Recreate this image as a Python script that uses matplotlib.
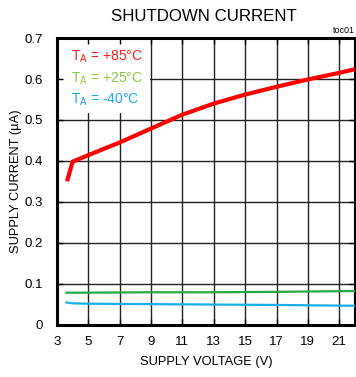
import matplotlib
matplotlib.use("Agg")
import matplotlib.pyplot as plt
from matplotlib.patches import Rectangle

plt.rcParams['font.family'] = ['Liberation Sans', 'DejaVu Sans']

# Data
v_red = [3.64, 4.0, 5, 7, 9, 11, 13, 15, 17, 19, 21, 22]
i_red = [0.350, 0.398, 0.414, 0.445, 0.479, 0.513, 0.540, 0.562, 0.581, 0.599, 0.615, 0.624]
v_green = [3.6, 5, 9, 13, 17, 22]
i_green = [0.078, 0.078, 0.079, 0.079, 0.080, 0.082]
v_blue = [3.6, 4, 5, 9, 13, 17, 22]
i_blue = [0.054, 0.052, 0.051, 0.050, 0.049, 0.048, 0.046]
xticks = [3, 5, 7, 9, 11, 13, 15, 17, 19, 21]
yticks = [0, 0.1, 0.2, 0.3, 0.4, 0.5, 0.6, 0.7]
ytick_labels = ["0", "0.1", "0.2", "0.3", "0.4", "0.5", "0.6", "0.7"]
legend_labels = [r"T$_\mathregular{A}$ = +85°C", r"T$_\mathregular{A}$ = +25°C", r"T$_\mathregular{A}$ = -40°C"]
legend_colors = ["#ff1a1a", "#8dc63f", "#1aa8e8"]

fig = plt.figure(figsize=(3.56, 3.77), dpi=100)
ax = fig.add_axes([0.160, 0.139, 0.837, 0.760])
ax.set_xlim(3, 22)
ax.set_ylim(0, 0.7)

for v in xticks[1:]:
    ax.axvline(v, color='#222222', lw=1.0, zorder=0.3)
for y in yticks[1:-1]:
    ax.axhline(y, color='#222222', lw=1.0, zorder=0.3)

ax.add_patch(Rectangle((3, 0.517), 5.93, 0.183, facecolor='white', edgecolor='none', zorder=0.6))

ax.plot(v_red, i_red, color='#ff0000', lw=3.0, zorder=3, solid_capstyle='butt', solid_joinstyle='round')
ax.plot(v_green, i_green, color='#22aa44', lw=1.6, zorder=3)
ax.plot(v_blue, i_blue, color='#19aee8', lw=1.6, zorder=3)

ax.set_xticks(xticks)
ax.set_yticks(yticks)
ax.set_yticklabels(ytick_labels)
ax.tick_params(direction='in', length=4, width=1, labelsize=9.5, top=True, right=True)
ax.tick_params(axis='x', pad=8)
ax.tick_params(axis='y', pad=10)
for s in ax.spines.values():
    s.set_linewidth(2.2)

lab_font = dict(family=['Liberation Sans Narrow', 'Liberation Sans', 'DejaVu Sans'], fontsize=9.3)
ax.set_xlabel("SUPPLY VOLTAGE (V)", labelpad=6, **lab_font)
ax.set_ylabel("SUPPLY CURRENT (µA)", labelpad=2, **lab_font)

fig.text(0.572, 0.957, "SHUTDOWN CURRENT", ha='center', va='center', fontsize=12.2)
fig.text(0.935, 0.919, "toc01", ha='left', va='center', fontsize=6.5)

ys = [0.850, 0.791, 0.735]
for lab, c, yy in zip(legend_labels, legend_colors, ys):
    fig.text(0.200, yy, lab, color=c, fontsize=10, ha='left', va='center')

fig.savefig("out.png", dpi=100)
